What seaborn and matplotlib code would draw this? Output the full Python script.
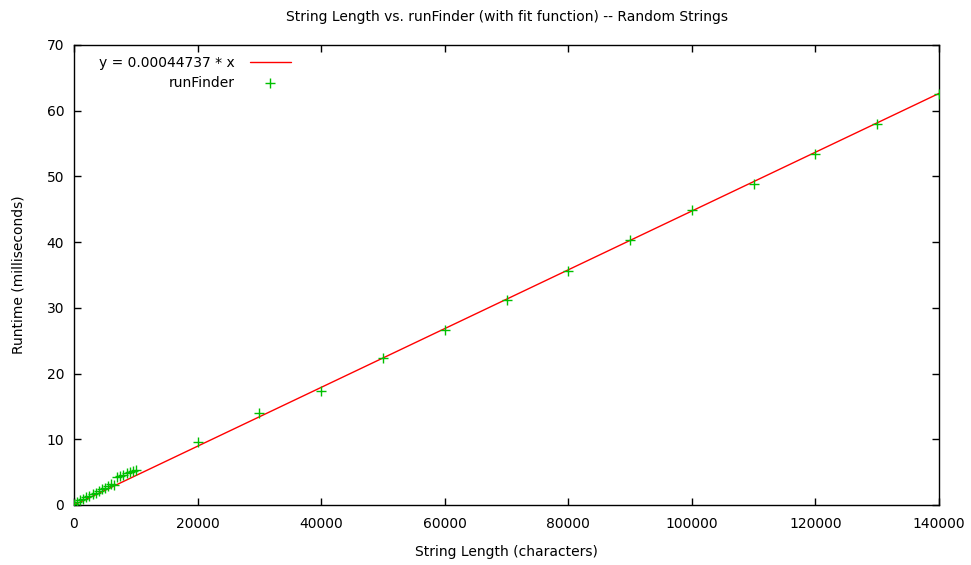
import numpy as np
import pandas as pd
import matplotlib
matplotlib.use("Agg")
import matplotlib.pyplot as plt
import seaborn as sns

# measured runtimes (ms) of runFinder for random strings
string_length = [0, 500, 1000, 1500, 2000, 2500, 3000, 3500, 4000, 4500,
                 5000, 5500, 6000, 6500, 7000, 7500, 8000, 8500, 9000, 9500,
                 10000, 20000, 30000, 40000, 50000, 60000, 70000, 80000,
                 90000, 100000, 110000, 120000, 130000, 140000]
runtime_ms = [0.2, 0.5, 0.7, 0.9, 1.2, 1.4, 1.7, 1.9, 2.1, 2.4,
              2.6, 2.9, 3.2, 3.1, 4.3, 4.4, 4.6, 4.8, 5.0, 5.2,
              5.3, 9.6, 14.0, 17.3, 22.4, 26.6, 31.2, 35.6,
              40.3, 44.9, 48.9, 53.4, 58.0, 62.5]

# fit function y = a * x
fit_slope = 0.00044737
fit_x = [0, 140000]
fit_label = "y = 0.00044737 * x"

df = pd.DataFrame({"length": string_length, "runtime": runtime_ms})
fit_df = pd.DataFrame({"length": fit_x, "runtime": [fit_slope * v for v in fit_x]})

sns.set_theme(style="ticks")
plt.rcParams["font.family"] = ["DejaVu Sans"]
plt.rcParams["font.size"] = 10
plt.rcParams["text.color"] = "black"
plt.rcParams["axes.labelcolor"] = "black"

fig = plt.figure(figsize=(9.71, 5.65), dpi=100)
ax = fig.add_axes([74 / 971, 1 - 505 / 565, 865 / 971, 460 / 565])

sns.lineplot(data=fit_df, x="length", y="runtime", color="#ff0000",
             linewidth=1.0, label=fit_label, ax=ax)
sns.scatterplot(data=df, x="length", y="runtime", marker="+", s=50,
                color="#00c000", linewidth=1.0, label="runFinder", ax=ax,
                zorder=3)

ax.set_xlim(0, 140000)
ax.set_ylim(0, 70)
ax.set_xticks(range(0, 140001, 20000))
ax.set_yticks(range(0, 71, 10))
ax.tick_params(direction="in", length=5, width=1, top=True, right=True,
               colors="black", labelsize=10)
ax.tick_params(axis="x", pad=9)
ax.tick_params(axis="y", pad=7)
for sp in ax.spines.values():
    sp.set_color("black")
    sp.set_linewidth(1.0)

ax.set_xlabel("String Length (characters)", fontsize=10, labelpad=10)
ax.set_ylabel("Runtime (milliseconds)", fontsize=10, labelpad=15)
ax.set_title("String Length vs. runFinder (with fit function) -- Random Strings",
             fontsize=10, pad=17)

ax.legend(loc="upper left", bbox_to_anchor=(0.014, 1.004), frameon=False,
          markerfirst=False, handlelength=3, handletextpad=1.1,
          labelspacing=0.45, fontsize=10)

fig.savefig("out.png", dpi=100)
